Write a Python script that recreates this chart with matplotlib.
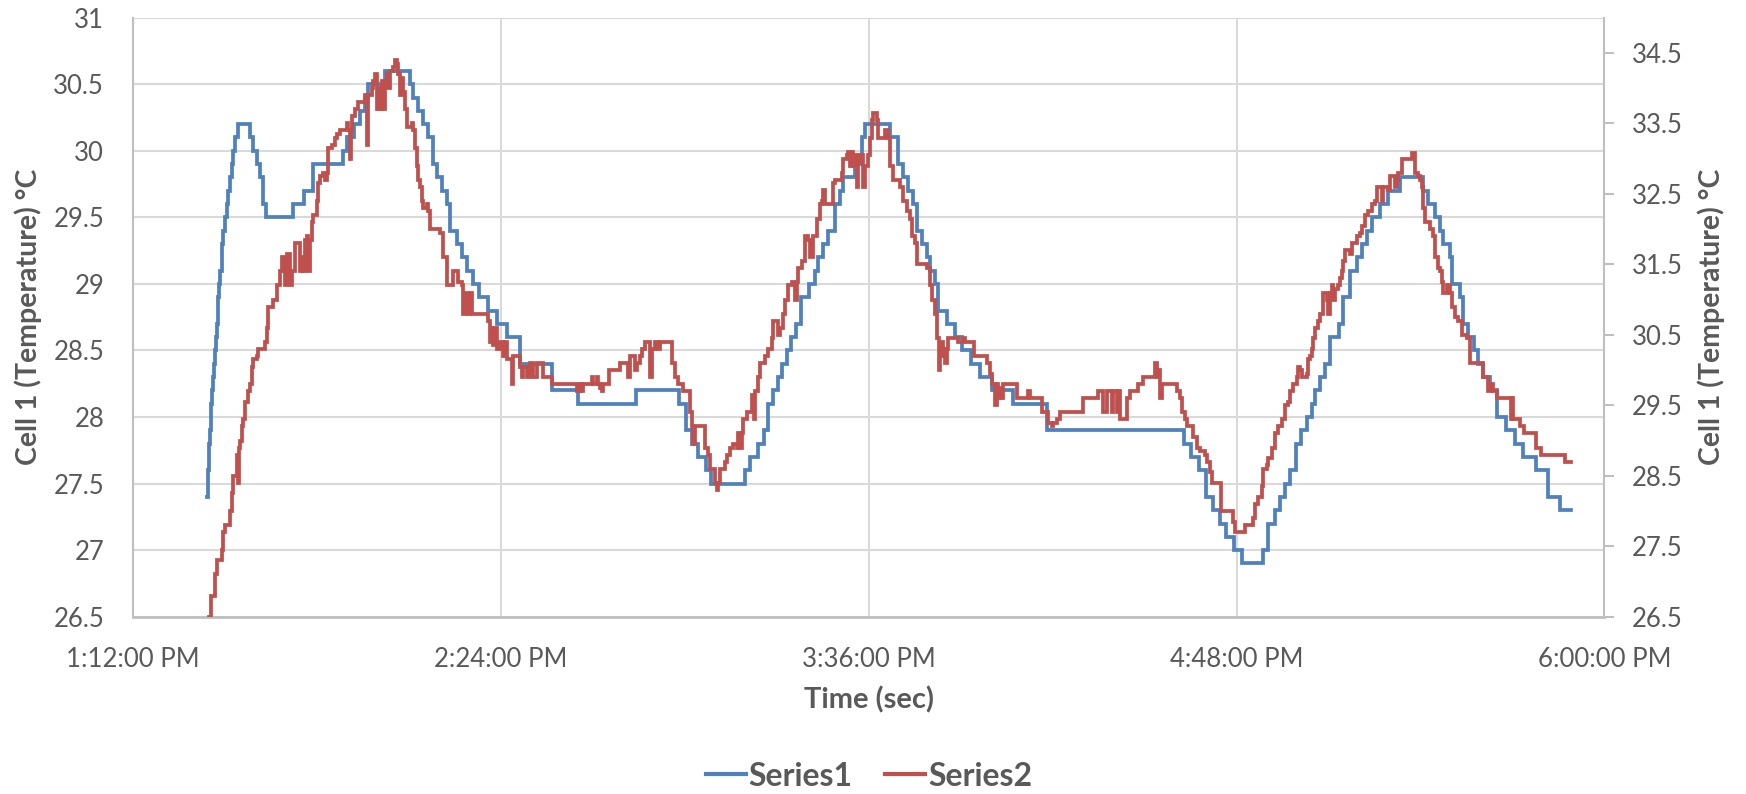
import matplotlib
matplotlib.use("Agg")
import matplotlib.pyplot as plt

# ---------------- data (minutes after 1:12:00 PM, temperature °C) ----------------
s1_time = [14.37, 14.55, 14.7, 14.8, 14.9, 15.0, 15.15, 15.3, 15.5, 15.67, 15.85, 16.0, 16.15, 16.3,
           16.5, 16.65, 16.8, 16.97, 17.3, 17.45, 17.63, 17.95, 18.28, 18.6, 18.93, 19.26, 19.6, 19.9,
           20.56, 22.85, 23.5, 24.15, 24.8, 25.46, 25.98, 31.33, 33.42, 35.12, 41.12, 41.77, 43.2, 44.38,
           45.36, 46.0, 49.28, 54.17, 54.83, 55.8, 56.78, 57.76, 58.74, 59.39, 60.37, 61.35, 62.0, 63.3,
           64.28, 65.26, 66.57, 67.75, 69.51, 71.14, 73.1, 75.7, 81.9, 87.1, 98.4, 106.9, 108.3, 109.3,
           110.6, 112.1, 113.2, 119.8, 120.7, 122.4, 123.4, 124.3, 125.2, 126.3, 127.1, 127.9, 128.7,
           129.7, 130.7, 132.2, 133.5, 134.1, 135.1, 136.1, 137.4, 138.4, 139.0, 141.3, 142.6, 143.2,
           148.2, 149.8, 150.6, 151.7, 152.6, 153.4, 154.4, 155.3, 156.0, 157.0, 157.6, 159.3, 160.9,
           162.2, 164.0, 165.8, 168.2, 172.3, 178.8, 205.7, 207.0, 208.6, 210.0, 211.3, 212.7, 214.0,
           215.5, 217.1, 221.1, 222.2, 223.5, 224.6, 225.5, 226.4, 227.6, 228.7, 229.7, 230.7, 231.4,
           232.3, 233.3, 234.3, 236.0, 236.9, 238.2, 239.5, 240.5, 241.5, 242.5, 244.1, 245.7, 248.0,
           252.5, 253.5, 254.8, 255.8, 256.5, 257.8, 258.1, 259.7, 260.4, 261.4, 262.5, 263.3, 264.3,
           265.6, 266.9, 268.7, 270.5, 272.1, 274.7, 277.0, 279.3, 281.4]
s1_temp = [27.4, 27.5, 27.6, 27.7, 27.8, 27.9, 28.0, 28.1, 28.2, 28.3, 28.4, 28.5, 28.6, 28.7,
           28.8, 28.9, 29.0, 29.1, 29.2, 29.3, 29.4, 29.5, 29.6, 29.7, 29.8, 29.9, 30.0, 30.1,
           30.2, 30.1, 30.0, 29.9, 29.8, 29.6, 29.5, 29.6, 29.7, 29.9, 30.0, 30.1, 30.2, 30.3,
           30.4, 30.5, 30.6, 30.5, 30.4, 30.3, 30.2, 30.1, 29.9, 29.8, 29.7, 29.6, 29.4, 29.3,
           29.2, 29.1, 29.0, 28.9, 28.8, 28.7, 28.6, 28.4, 28.2, 28.1, 28.2, 28.1, 27.9, 27.8,
           27.7, 27.6, 27.5, 27.6, 27.7, 27.8, 27.9, 28.1, 28.2, 28.3, 28.4, 28.5, 28.6,
           28.7, 28.9, 29.0, 29.1, 29.2, 29.3, 29.4, 29.6, 29.7, 29.8, 29.9, 30.1, 30.2,
           30.1, 29.9, 29.8, 29.7, 29.6, 29.4, 29.3, 29.2, 29.1, 29.0, 28.8, 28.7, 28.6,
           28.5, 28.4, 28.3, 28.2, 28.1, 27.9, 27.8, 27.7, 27.6, 27.4, 27.3, 27.2, 27.1,
           27.0, 26.9, 27.0, 27.2, 27.3, 27.4, 27.5, 27.6, 27.8, 27.9, 28.0, 28.1, 28.2,
           28.3, 28.4, 28.6, 28.7, 28.9, 29.1, 29.2, 29.3, 29.4, 29.5, 29.6, 29.7, 29.8,
           29.7, 29.6, 29.5, 29.4, 29.3, 29.2, 29.0, 28.9, 28.7, 28.6, 28.5, 28.4, 28.3,
           28.2, 28.0, 27.9, 27.8, 27.7, 27.6, 27.4, 27.3, 27.3]

s2_time = [14.88, 15.15, 16.0, 16.32, 17.3, 17.5, 17.95, 18.93, 19.26, 19.58, 20.24, 20.57, 20.75, 20.89,
           21.2, 21.5, 21.9, 22.5, 22.84, 23.17, 23.5, 24.15, 24.5, 25.8, 26.1, 26.43, 27.41, 28.07,
           28.72, 29.05, 29.7, 30.03, 30.68, 31.0, 31.66, 32.64, 32.96, 33.29, 33.61, 33.94, 34.27,
           34.59, 34.92, 35.25, 35.9, 36.22, 36.55, 37.2, 37.53, 37.86, 38.18, 38.83, 39.49, 39.81,
           40.46, 41.77, 42.1, 42.42, 42.6, 42.75, 43.4, 44.06, 45.36, 45.82, 46.0, 46.66, 46.99,
           47.32, 47.64, 47.97, 48.3, 48.62, 48.95, 49.28, 49.6, 49.93, 50.26, 50.91, 51.24, 51.56,
           51.89, 52.22, 52.54, 52.87, 53.2, 53.52, 54.5, 54.83, 55.15, 55.48, 55.8, 56.13, 56.46,
           56.78, 57.43, 57.76, 58.09, 60.04, 60.7, 61.48, 62.66, 63.64, 64.29, 64.61, 64.94, 65.26,
           65.59, 65.92, 66.24, 69.51, 69.83, 70.16, 70.48, 70.81, 71.14, 71.79, 72.44, 72.77, 73.1,
           74.07, 74.4, 75.7, 76.03, 76.35, 77.0, 77.66, 78.31, 78.96, 80.27, 81.9, 86.8, 87.45,
           87.78, 88.1, 89.74, 90.06, 90.72, 91.04, 91.37, 91.7, 92.02, 93.2, 95.29, 96.92, 97.25,
           98.23, 98.56, 99.21, 99.53, 100.19, 101.16, 101.49, 102.14, 102.8, 103.12, 105.41, 106.06,
           106.71, 107.69, 109.0, 109.3, 109.64, 109.97, 111.93, 112.58, 112.91, 113.89, 114.21,
           114.54, 114.87, 115.85, 116.17, 116.83, 117.48, 118.13, 118.46, 118.79, 119.11, 119.44,
           120.09, 121.07, 121.53, 121.73, 122.38, 122.71, 123.69, 124.34, 125.0, 125.32, 126.3,
           126.63, 127.28, 127.6, 128.26, 128.91, 129.56, 129.89, 130.21, 130.87, 131.52, 132.17,
           132.5, 133.15, 133.81, 134.46, 134.79, 135.11, 135.44, 137.07, 137.4, 138.71, 139.03,
           139.69, 140.01, 140.34, 140.67, 140.99, 141.32, 141.65, 141.97, 142.3, 142.95, 143.28,
           143.93, 144.26, 144.59, 144.91, 145.56, 145.89, 147.2, 147.85, 148.18, 148.83, 150.14,
           150.79, 151.44, 152.09, 152.42, 153.07, 153.4, 155.36, 156.01, 156.34, 156.99, 157.32,
           157.65, 157.97, 158.3, 158.62, 158.95, 159.28, 159.6, 161.56, 162.54, 162.87, 164.5,
           167.06, 167.72, 168.04, 168.7, 169.02, 169.35, 169.68, 170.0, 170.33, 172.94, 175.23,
           175.55, 177.84, 179.14, 179.8, 180.12, 180.78, 181.43, 186.0, 188.94, 189.92, 190.57,
           191.55, 191.87, 192.53, 192.85, 193.18, 194.49, 195.14, 196.77, 197.75, 200.04, 200.36,
           200.69, 201.02, 201.34, 204.28, 204.93, 205.26, 205.91, 206.24, 207.54, 208.2, 208.85,
           209.83, 210.16, 210.81, 211.14, 212.9, 215.38, 215.71, 217.66, 219.3, 219.62, 220.28,
           220.93, 221.26, 221.91, 222.24, 222.89, 223.54, 224.19, 224.85, 225.5, 226.15, 226.48,
           227.13, 227.78, 228.11, 228.44, 228.76, 229.74, 230.07, 230.39, 230.72, 231.05, 231.37,
           232.03, 232.35, 233.0, 233.66, 233.98, 234.31, 234.64, 234.96, 235.29, 235.94, 236.27,
           236.6, 236.92, 237.25, 238.23, 238.55, 239.53, 240.18, 240.51, 241.16, 241.82, 242.47,
           243.12, 243.45, 244.43, 244.75, 245.73, 246.06, 247.04, 247.37, 247.69, 248.35, 250.3,
           250.96, 251.61, 251.94, 252.26, 252.59, 252.92, 253.86, 254.51, 254.84, 255.49, 255.82,
           256.15, 256.47, 257.13, 257.78, 258.1, 258.76, 259.41, 260.06, 261.04, 261.7, 264.3,
           265.3, 265.8, 266.2, 266.9, 269.8, 270.0, 270.2, 271.5, 272.3, 274.7, 275.7, 280.3, 281.4]
s2_temp = [26.5, 26.8, 27.1, 27.3, 27.45, 27.7, 27.8, 28.0, 28.25, 28.5, 28.8, 28.4, 28.9, 29.0,
           29.2, 29.3, 29.55, 29.7, 29.8, 30.05, 30.15, 30.2, 30.3, 30.4, 30.6, 30.9, 31.0, 31.2,
           31.4, 31.6, 31.2, 31.65, 31.2, 31.4, 31.8, 31.4, 31.6, 31.4, 31.85, 31.9, 31.4,
           31.85, 32.1, 32.2, 32.4, 32.65, 32.75, 32.8, 32.7, 32.8, 33.15, 33.2, 33.3, 33.35,
           33.4, 33.5, 33.4, 33.0, 33.4, 33.6, 33.7, 33.8, 33.9, 33.2, 33.9, 34.0, 34.1,
           34.2, 33.7, 34.0, 33.7, 34.1, 33.7, 34.1, 34.2, 34.0, 34.25, 34.3, 34.4, 34.35,
           34.2, 33.9, 34.15, 33.95, 33.7, 33.45, 33.5, 33.4, 33.15, 32.9, 32.7, 32.6, 32.4,
           32.3, 32.35, 32.25, 32.0, 31.95, 31.6, 31.2, 31.4, 31.25, 31.2, 30.8, 31.1, 30.95,
           30.8, 31.1, 30.8, 30.7, 30.4, 30.6, 30.35, 30.6, 30.3, 30.4, 30.2, 30.4, 30.15,
           29.8, 30.2, 30.05, 29.9, 30.05, 29.9, 30.1, 29.9, 30.1, 29.9, 29.8, 29.7, 29.8,
           29.7, 29.8, 29.9, 29.8, 29.9, 29.8, 29.75, 29.7, 29.8, 30.0, 30.1, 29.9, 30.2,
           30.0, 30.1, 30.2, 30.3, 30.4, 29.9, 30.3, 30.4, 30.3, 30.4, 30.1, 29.9,
           29.8, 29.7, 29.4, 29.2, 28.95, 29.2, 28.9, 28.8, 28.6, 28.4, 28.3,
           28.4, 28.6, 28.7, 28.8, 28.9, 28.95, 28.9, 29.1, 28.9, 29.1, 29.3,
           29.4, 29.65, 29.3, 29.7, 29.9, 30.1, 30.2, 30.3, 30.45, 30.7, 30.5,
           30.6, 30.8, 31.0, 31.2, 31.25, 31.0, 31.25, 31.45, 31.55, 31.9, 31.85,
           31.6, 31.9, 32.15, 32.35, 32.4, 32.55, 32.35, 32.65, 32.7, 32.8, 33.0,
           33.05, 33.1, 32.9, 33.1, 32.9, 33.05, 32.6, 32.95, 33.05, 32.6, 32.9,
           33.05, 33.3, 33.55, 33.65, 33.55, 33.3, 33.4, 33.3, 32.9, 32.7, 32.6,
           32.4, 32.25, 32.15, 31.9, 31.8, 31.5, 31.45, 31.2, 31.0, 30.8, 30.45,
           30.0, 30.2, 30.4, 30.3, 30.1, 30.3, 30.45, 30.4, 30.45, 30.4, 30.2,
           30.1, 29.95, 29.8, 29.5, 29.8, 29.6, 29.75, 29.6, 29.8, 29.6, 29.7,
           29.6, 29.4, 29.25, 29.2, 29.25, 29.3, 29.4, 29.6, 29.7, 29.4, 29.7,
           29.4, 29.7, 29.4, 29.7, 29.3, 29.6, 29.7, 29.8, 29.9, 30.1, 29.9,
           30.0, 29.6, 29.8, 29.7, 29.6, 29.4, 29.3, 29.2, 29.05, 28.9, 28.85,
           28.8, 28.7, 28.55, 28.4, 28.0, 27.85, 27.7, 27.8, 27.9, 28.1, 28.2,
           28.35, 28.6, 28.65, 28.75, 28.9, 29.1, 29.2, 29.3, 29.5, 29.55, 29.7,
           29.8, 29.9, 30.05, 30.0, 29.9, 29.95, 30.15, 30.2, 30.3, 30.45, 30.6,
           30.7, 30.8, 31.1, 31.0, 30.8, 31.1, 31.2, 31.0, 31.15, 31.2, 31.3,
           31.4, 31.55, 31.7, 31.65, 31.8, 31.9, 31.95, 32.05, 32.2, 32.25, 32.35,
           32.4, 32.6, 32.4, 32.6, 32.55, 32.75, 32.6, 32.7, 32.8, 33.0, 33.08,
           32.8, 32.75, 32.7, 32.6, 32.3, 32.1, 32.0, 31.9, 31.6, 31.45, 31.4,
           31.25, 31.1, 31.2, 31.1, 30.9, 30.75, 30.7, 30.5, 30.45, 30.1, 29.9,
           29.7, 29.8, 29.7, 29.6, 29.3, 29.6, 29.3, 29.2, 29.1, 28.9, 28.8, 28.7, 28.7]

x_ticks = [0, 72, 144, 216, 288]
x_tick_labels = ["1:12:00 PM", "2:24:00 PM", "3:36:00 PM", "4:48:00 PM", "6:00:00 PM"]
left_ticks = [26.5, 27, 27.5, 28, 28.5, 29, 29.5, 30, 30.5, 31]
left_tick_labels = ["26.5", "27", "27.5", "28", "28.5", "29", "29.5", "30", "30.5", "31"]
right_ticks = [26.5, 27.5, 28.5, 29.5, 30.5, 31.5, 32.5, 33.5, 34.5]
right_tick_labels = ["26.5", "27.5", "28.5", "29.5", "30.5", "31.5", "32.5", "33.5", "34.5"]
series_names = ["Series1", "Series2"]
x_title = "Time (sec)"
y_title = "Cell 1 (Temperature) °C"

# ---------------- style ----------------
plt.rcParams['font.family'] = ['Lato', 'DejaVu Sans']
TXT = '#595959'
GRID = '#d9d9d9'
AXC = '#bfbfbf'
BLUE = '#4f81bd'
RED = '#c0504d'
W, H = 1746, 794

fig = plt.figure(figsize=(W / 100, H / 100), dpi=100)
L, R, T, B = 133.3, 1604.3, 17.7, 616.7
ax = fig.add_axes([L / W, 1 - B / H, (R - L) / W, (B - T) / H])
ax2 = ax.twinx()

ax.plot(s1_time, s1_temp, drawstyle='steps-post', color=BLUE, lw=2.7, solid_joinstyle='miter')
ax2.plot(s2_time, s2_temp, drawstyle='steps-post', color=RED, lw=2.7, solid_joinstyle='miter')

ax.set_xlim(0, 288)
ax.set_ylim(26.5, 31)
ax2.set_ylim(26.5, 35)

ax.set_xticks(x_ticks)
ax.set_xticklabels(x_tick_labels)
ax.set_yticks(left_ticks)
ax.set_yticklabels(left_tick_labels)
ax2.set_yticks(right_ticks)
ax2.set_yticklabels(right_tick_labels)

ax.set_axisbelow(True)
ax.grid(True, color=GRID, lw=1.5)

for a in (ax, ax2):
    for s in a.spines.values():
        s.set_visible(False)
ax.spines['left'].set_visible(True)
ax.spines['left'].set_color(AXC)
ax.spines['left'].set_linewidth(1.5)
ax.spines['bottom'].set_visible(True)
ax.spines['bottom'].set_color(AXC)
ax.spines['bottom'].set_linewidth(2)
ax2.spines['right'].set_visible(True)
ax2.spines['right'].set_color(AXC)
ax2.spines['right'].set_linewidth(1.5)

ax.tick_params(axis='y', length=0, pad=21, labelsize=18.5, labelcolor=TXT)
ax.tick_params(axis='x', length=0, pad=22, labelsize=18.5, labelcolor=TXT)
ax2.tick_params(axis='y', length=7, width=1.5, color=AXC, pad=13, labelsize=18.5, labelcolor=TXT)

fig.text((L + R) / 2 / W, 1 - 700 / H, x_title, ha='center', va='center',
         fontsize=21, fontweight='bold', color=TXT)
fig.text(28.5 / W, 1 - (T + B) / 2 / H, y_title, ha='center', va='center', rotation=90,
         fontsize=20.5, fontweight='bold', color=TXT)
fig.text(1711.5 / W, 1 - (T + B) / 2 / H, y_title, ha='center', va='center', rotation=90,
         fontsize=20.5, fontweight='bold', color=TXT)

h1 = plt.Line2D([], [], color=BLUE, lw=3)
h2 = plt.Line2D([], [], color=RED, lw=3)
leg = fig.legend([h1, h2], series_names, loc='center', ncol=2,
                 bbox_to_anchor=((L + R) / 2 / W, 1 - 776 / H), frameon=False,
                 handlelength=1.25, handletextpad=0.1, columnspacing=1.0,
                 prop={'size': 23, 'weight': 'bold'})
for t in leg.get_texts():
    t.set_color(TXT)

fig.savefig('out.png', dpi=100)
